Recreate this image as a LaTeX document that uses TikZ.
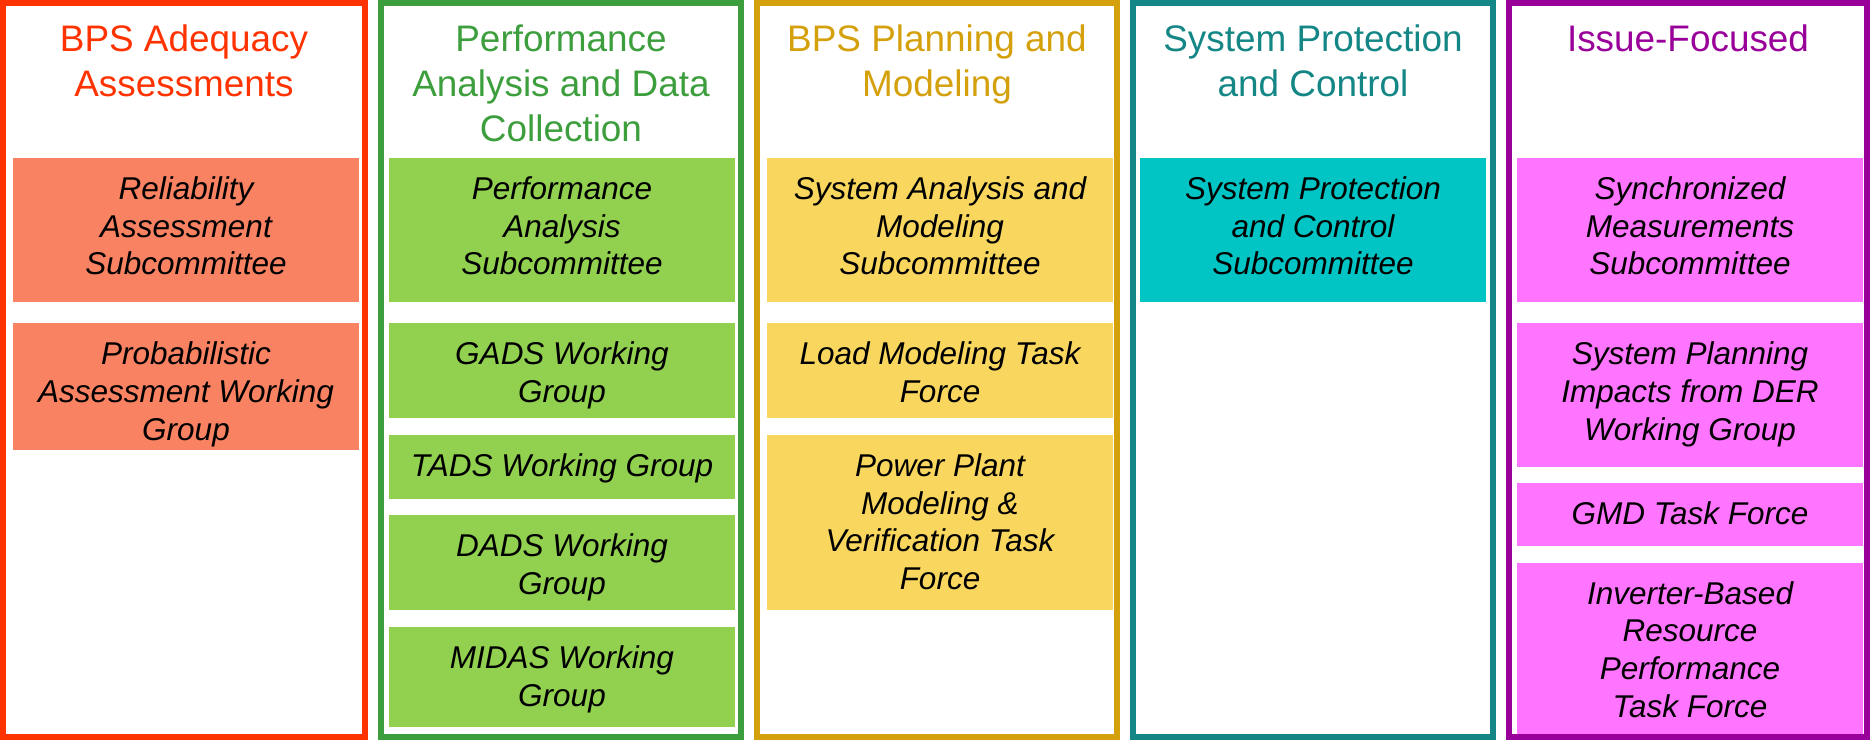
\documentclass[tikz,border=0pt]{standalone}
\usepackage{fontspec}
\setmainfont{Liberation Sans}
\definecolor{adqred}{HTML}{FF3300}
\definecolor{adqbox}{HTML}{F98262}
\definecolor{perfgreen}{HTML}{3D9E3D}
\definecolor{perfbox}{HTML}{92D050}
\definecolor{plangold}{HTML}{D4A00C}
\definecolor{planbox}{HTML}{F9D75E}
\definecolor{protteal}{HTML}{138685}
\definecolor{protbox}{HTML}{00C5C4}
\definecolor{issuepurple}{HTML}{990099}
\definecolor{issuebox}{HTML}{FF75FF}
\newcommand{\subtext}[2]{\parbox[t][#1][t]{346pt}{\centering\rule{0pt}{41.5pt}#2}}
\tikzset{
    colframe/.style={line width=6pt},
    grouptitle/.style={anchor=north, inner sep=0pt, align=center, font=\fontsize{36.9}{45}\selectfont},
    subbox/.style={anchor=north, inner sep=0pt, font=\fontsize{31.5}{37.8}\selectfont\itshape},
}
\begin{document}
\begin{tikzpicture}[x=1pt,y=-1pt]
    \useasboundingbox (0,0) rectangle (1870,740);
    \node[subbox, fill=adqbox] (relSub) at (186,157.5) {\subtext{144pt}{Reliability\\Assessment\\Subcommittee}};
    \node[subbox, fill=adqbox] (probWG) at (186,323) {\subtext{127pt}{Probabilistic\\Assessment Working\\Group}};
    \node[subbox, fill=perfbox] (perfSub) at (562,157.5) {\subtext{144pt}{Performance\\Analysis\\Subcommittee}};
    \node[subbox, fill=perfbox] (gadsWG) at (562,323) {\subtext{95pt}{GADS Working\\Group}};
    \node[subbox, fill=perfbox] (tadsWG) at (562,434.6) {\subtext{64pt}{TADS Working Group}};
    \node[subbox, fill=perfbox] (dadsWG) at (562,514.7) {\subtext{95.3pt}{DADS Working\\Group}};
    \node[subbox, fill=perfbox] (midasWG) at (562,626.7) {\subtext{100.3pt}{MIDAS Working\\Group}};
    \node[subbox, fill=planbox] (samSub) at (940,157.5) {\subtext{144pt}{System Analysis and\\Modeling\\Subcommittee}};
    \node[subbox, fill=planbox] (loadTF) at (940,323) {\subtext{95pt}{Load Modeling Task\\Force}};
    \node[subbox, fill=planbox] (ppmvTF) at (940,434.6) {\subtext{175.4pt}{Power Plant\\Modeling \&\\Verification Task\\Force}};
    \node[subbox, fill=protbox] (spcSub) at (1313,157.5) {\subtext{144pt}{System Protection\\and Control\\Subcommittee}};
    \node[subbox, fill=issuebox] (smSub) at (1690,157.5) {\subtext{144pt}{Synchronized\\Measurements\\Subcommittee}};
    \node[subbox, fill=issuebox] (derWG) at (1690,323) {\subtext{143.5pt}{System Planning\\Impacts from DER\\Working Group}};
    \node[subbox, fill=issuebox] (gmdTF) at (1690,482.7) {\subtext{63.3pt}{GMD Task Force}};
    \node[subbox, fill=issuebox] (ibrTF) at (1690,562.4) {\subtext{173.6pt}{Inverter-Based\\Resource\\Performance\\Task Force}};
    \foreach \l/\r/\clr/\txt [count=\i] in {3/365/adqred/{BPS Adequacy\\Assessments},
            381/741/perfgreen/{Performance\\Analysis and Data\\Collection},
            757/1117/plangold/{BPS Planning and\\Modeling},
            1133/1493/protteal/{System Protection\\and Control},
            1509/1867/issuepurple/{Issue-Focused}} {
        \draw[colframe, \clr] (\l,3) rectangle (\r,737);
        \node[grouptitle, text=\clr] (title\i) at ({(\l+\r)/2},24.5) {\txt};
    };
\end{tikzpicture}
\end{document}
